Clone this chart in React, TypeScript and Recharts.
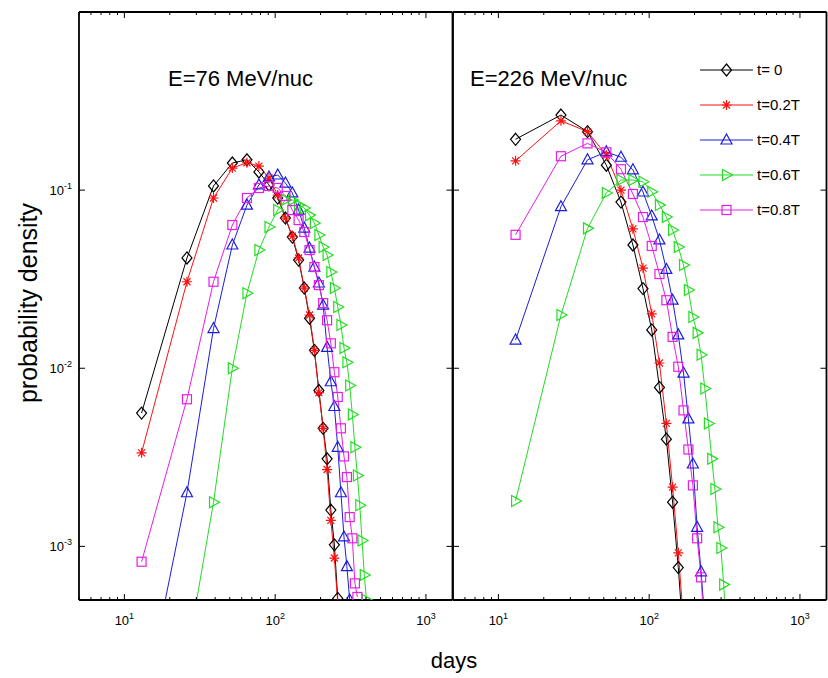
import React from "react";
import { LineChart, Line, XAxis, YAxis } from "recharts";

// bin centres (days)
const days = [13, 26, 39, 52, 65, 78, 91, 104, 117, 130, 143, 156, 169, 182, 195, 208, 221, 234, 247, 260, 273, 286, 299, 312, 325, 338, 351, 364, 377, 390, 403];

// E = 76 MeV/nuc
const lowT0 = [0.0056, 0.0416, 0.1055, 0.142, 0.148, 0.1265, 0.107, 0.0903, 0.0697, 0.0545, 0.0405, 0.0282, 0.0191, 0.0126, 0.0075, 0.0046, 0.0031, 0.0016, 0.00102, 0.00051];
const lowT2 = [0.00335, 0.0306, 0.0903, 0.133, 0.1425, 0.1365, 0.117, 0.0938, 0.0697, 0.0552, 0.0416, 0.0282, 0.0199, 0.0126, 0.0073, 0.0046, 0.0027, 0.0014, 0.00086, 0.00048];
const lowT4 = [0.00011, 0.002, 0.0167, 0.0492, 0.0824, 0.107, 0.1185, 0.1216, 0.1096, 0.0964, 0.0773, 0.0612, 0.0473, 0.037, 0.0301, 0.0226, 0.0131, 0.0084, 0.0061, 0.0036, 0.002, 0.00113, 0.00077, 0.0005];
const lowT6 = [null, 0.00024, 0.00177, 0.01, 0.0264, 0.0461, 0.0621, 0.0773, 0.088, 0.088, 0.0824, 0.0793, 0.0724, 0.0653, 0.056, 0.048, 0.0432, 0.0347, 0.0282, 0.0221, 0.0175, 0.013, 0.0108, 0.008, 0.0055, 0.0036, 0.0025, 0.0017, 0.00108, 0.00069, 0.0005];
const lowT8 = [0.00082, 0.0067, 0.0306, 0.0637, 0.0903, 0.1028, 0.1055, 0.1028, 0.0927, 0.0773, 0.0679, 0.0582, 0.0461, 0.037, 0.0293, 0.0232, 0.0186, 0.0138, 0.0095, 0.0069, 0.0046, 0.0032, 0.00245, 0.00146, 0.00111, 0.00062, 0.00052];

// E = 226 MeV/nuc
const highT0 = [0.193, 0.264, 0.213, 0.138, 0.0857, 0.0492, 0.028, 0.0164, 0.0078, 0.004, 0.00177, 0.00076, 0.0003];
const highT2 = [0.146, 0.245, 0.213, 0.157, 0.1, 0.0606, 0.0365, 0.0202, 0.0107, 0.0049, 0.00215, 0.00092, 0.00038];
const highT4 = [0.0144, 0.0807, 0.148, 0.164, 0.153, 0.13, 0.0976, 0.0716, 0.0525, 0.0359, 0.0241, 0.0154, 0.0094, 0.0052, 0.0029, 0.00128, 0.00072, 0.00038];
const highT6 = [0.0018, 0.0199, 0.061, 0.0964, 0.114, 0.114, 0.1115, 0.098, 0.0824, 0.0706, 0.0597, 0.048, 0.038, 0.0275, 0.0194, 0.0158, 0.0119, 0.0077, 0.0049, 0.0031, 0.0021, 0.00128, 0.00098, 0.00061, 0.00035];
const highT8 = [0.0561, 0.155, 0.183, 0.163, 0.131, 0.0951, 0.0706, 0.0486, 0.0338, 0.0241, 0.015, 0.0102, 0.0058, 0.0035, 0.0022, 0.00111, 0.00067, 0.0003];

const xTicks = [5, 6, 7, 8, 9, 10, 20, 30, 40, 50, 60, 70, 80, 90, 100, 200, 300, 400, 500, 600, 700, 800, 900, 1000];
const yTicks = [0.001, 0.01, 0.1];
const xMajor = [10, 100, 1000];

const SERIES = [
  { key: "t0", name: "t= 0", color: "#000000", marker: "diamond" },
  { key: "t2", name: "t=0.2T", color: "#ff1010", marker: "star" },
  { key: "t4", name: "t=0.4T", color: "#1c1cdc", marker: "triUp" },
  { key: "t6", name: "t=0.6T", color: "#22dd22", marker: "triRight" },
  { key: "t8", name: "t=0.8T", color: "#e61ee6", marker: "square" },
];

function buildRows(cols: (number | null)[][]) {
  return days.map((d, i) => {
    const row: any = { d };
    SERIES.forEach((s, j) => {
      const v = cols[j][i];
      row[s.key] = v == null ? null : v;
    });
    return row;
  });
}

const lowRows = buildRows([lowT0, lowT2, lowT4, lowT6, lowT8]);
const highRows = buildRows([highT0, highT2, highT4, highT6, highT8]);

const FONT = "'Liberation Sans', Arial, Helvetica, sans-serif";
const AXIS = { stroke: "#000", strokeWidth: 1.8 };

function Marker({ kind, cx, cy, color }: { kind: string; cx: number; cy: number; color: string }) {
  const common = { fill: "none", stroke: color, strokeWidth: 1.2 };
  if (kind === "diamond")
    return <polygon points={`${cx},${cy - 6} ${cx + 5},${cy} ${cx},${cy + 6} ${cx - 5},${cy}`} {...common} />;
  if (kind === "star")
    return (
      <path
        d={`M${cx},${cy - 5}V${cy + 5}M${cx - 5},${cy}H${cx + 5}M${cx - 3.5},${cy - 3.5}L${cx + 3.5},${cy + 3.5}M${cx - 3.5},${cy + 3.5}L${cx + 3.5},${cy - 3.5}`}
        {...common}
      />
    );
  if (kind === "triUp")
    return <polygon points={`${cx},${cy - 6} ${cx + 5.5},${cy + 4} ${cx - 5.5},${cy + 4}`} {...common} />;
  if (kind === "triRight")
    return <polygon points={`${cx + 6},${cy} ${cx - 4},${cy - 5.5} ${cx - 4},${cy + 5.5}`} {...common} />;
  return <rect x={cx - 4.5} y={cy - 4.5} width={9} height={9} {...common} />;
}

const dotFor = (kind: string, color: string) => (p: any) => {
  const { cx, cy, index } = p;
  if (cx == null || cy == null || Number.isNaN(cx) || Number.isNaN(cy)) return <g key={`n-${index}`} />;
  return (
    <g key={`${kind}-${index}`}>
      <Marker kind={kind} cx={cx} cy={cy} color={color} />
    </g>
  );
};

function XTick(p: any) {
  const { x, y, payload, side } = p;
  const v = payload.value;
  const major = xMajor.includes(v);
  const len = major ? 6 : 3;
  const dir = side === "top" ? 1 : -1;
  return (
    <g>
      <line x1={x} x2={x} y1={y} y2={y + dir * len} stroke="#000" strokeWidth={1} />
      {major && side === "bottom" && (
        <text x={x} y={y + 25} textAnchor="middle" fontSize={13} fontFamily={FONT} fill="#000">
          10
          <tspan dy={-6} fontSize={9}>{Math.round(Math.log10(v))}</tspan>
        </text>
      )}
    </g>
  );
}

function YTick(p: any) {
  const { x, y, payload, side, labels } = p;
  const v = payload.value;
  const dir = side === "left" ? 1 : -1;
  return (
    <g>
      <line x1={x} x2={x + dir * 6} y1={y} y2={y} stroke="#000" strokeWidth={1} />
      {labels && (
        <text x={x - 7} y={y + 5} textAnchor="end" fontSize={13} fontFamily={FONT} fill="#000">
          10
          <tspan dy={-6} fontSize={9}>{Math.round(Math.log10(v))}</tspan>
        </text>
      )}
    </g>
  );
}

function Panel({ rows, width, left, right, labels }: { rows: any[]; width: number; left: number; right: number; labels: boolean }) {
  const xCommon = {
    dataKey: "d",
    type: "number" as const,
    scale: "log" as const,
    domain: [5, 1500],
    allowDataOverflow: true,
    ticks: xTicks,
    interval: 0 as const,
    height: 1,
    tickSize: 0,
    tickMargin: 0,
    tickLine: false,
    axisLine: AXIS,
  };
  const yCommon = {
    type: "number" as const,
    scale: "log" as const,
    domain: [0.0005, 1],
    allowDataOverflow: true,
    ticks: yTicks,
    interval: 0 as const,
    width: 1,
    tickSize: 0,
    tickMargin: 0,
    tickLine: false,
    axisLine: AXIS,
  };
  return (
    <LineChart width={width} height={678} data={rows} margin={{ top: 11, right: right - 1, bottom: 77, left: left - 1 }}>
      <XAxis {...xCommon} tick={(p: any) => <XTick {...p} side="bottom" />} />
      <XAxis {...xCommon} xAxisId="top" orientation="top" tick={(p: any) => <XTick {...p} side="top" />} />
      <YAxis {...yCommon} tick={(p: any) => <YTick {...p} side="left" labels={labels} />} />
      <YAxis {...yCommon} yAxisId="right" orientation="right" tick={(p: any) => <YTick {...p} side="right" />} />
      {SERIES.map((s) => (
        <Line
          key={s.key}
          dataKey={s.key}
          name={s.name}
          stroke={s.color}
          strokeWidth={1}
          dot={dotFor(s.marker, s.color)}
          activeDot={false}
          isAnimationActive={false}
        />
      ))}
    </LineChart>
  );
}

const legendRows = [70, 105, 140, 175, 210];

export default function App() {
  return (
    <div style={{ position: "absolute", left: 0, top: 0, width: 828, height: 678, background: "#fff", fontFamily: FONT }}>
      <div style={{ position: "absolute", left: 0, top: 0 }}>
        <Panel rows={lowRows} width={460} left={79} right={7.5} labels />
      </div>
      <div style={{ position: "absolute", left: 446, top: 0 }}>
        <Panel rows={highRows} width={382} left={7} right={1.5} labels={false} />
      </div>
      <svg width={828} height={678} style={{ position: "absolute", left: 0, top: 0, pointerEvents: "none" }}>
        <text x={168} y={86} fontSize={22} fontFamily={FONT} fill="#000">E=76 MeV/nuc</text>
        <text x={470} y={86} fontSize={22} fontFamily={FONT} fill="#000">E=226 MeV/nuc</text>
        <text x={454} y={668} textAnchor="middle" fontSize={22} fontFamily={FONT} fill="#000">days</text>
        <text x={0} y={0} transform="translate(37,303) rotate(-90)" textAnchor="middle" fontSize={25} fontFamily={FONT} fill="#000">
          probability density
        </text>
        {SERIES.map((s, i) => (
          <g key={s.key}>
            <line x1={700} x2={753} y1={legendRows[i]} y2={legendRows[i]} stroke={s.color} strokeWidth={1} />
            <Marker kind={s.marker} cx={726.5} cy={legendRows[i]} color={s.color} />
            <text x={757} y={legendRows[i] + 5} fontSize={15} fontFamily={FONT} fill="#000">{s.name}</text>
          </g>
        ))}
      </svg>
    </div>
  );
}
